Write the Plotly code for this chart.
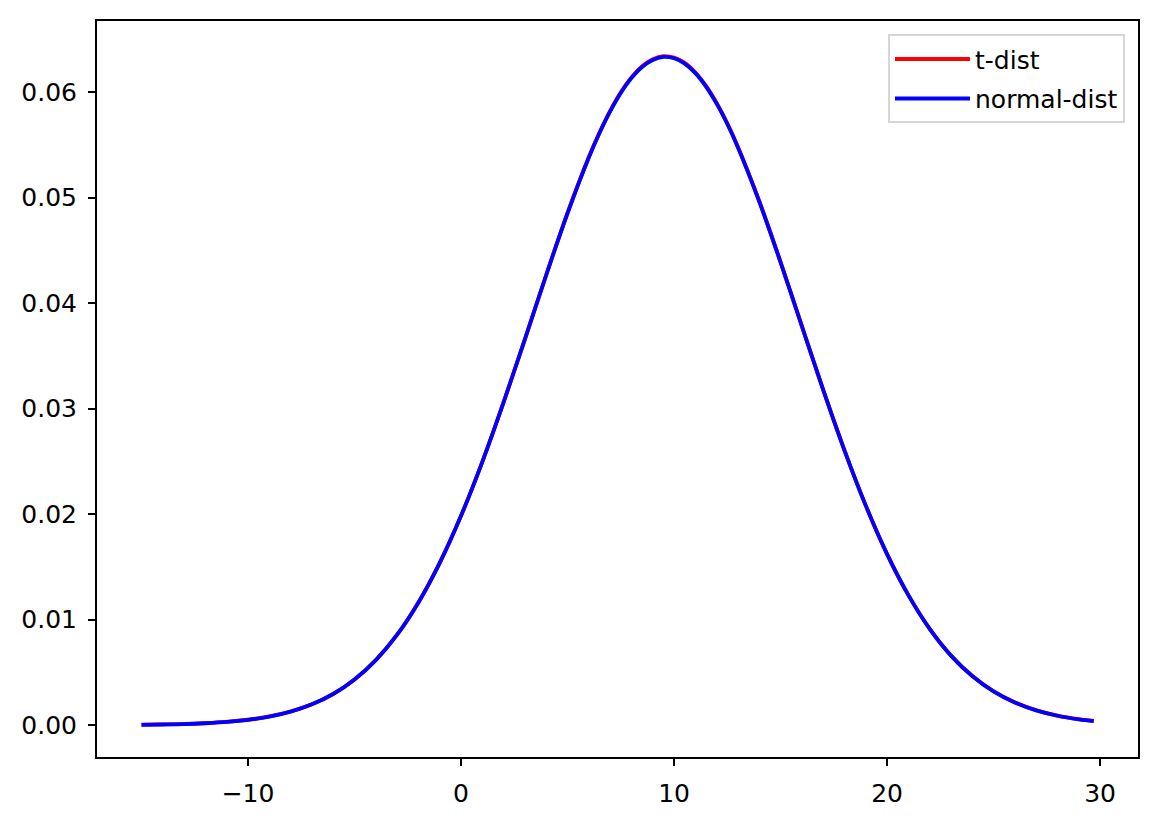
import plotly.graph_objects as go

x_vals = [-15, -14, -13, -12, -11, -10, -9, -8, -7, -6, -5, -4, -3, -2, -1,
          0, 1, 2, 3, 4, 5, 6, 6.5, 7, 7.5, 8, 8.5, 9, 9.5, 10, 10.5, 11, 11.5,
          12, 12.5, 13, 14, 15, 16, 17, 18, 19,
          20, 21, 22, 23, 24, 25, 26, 27, 28, 29, 29.7]

t_dist = [0.00004, 0.00007, 0.00011, 0.00019, 0.00031, 0.00051, 0.00082, 0.00129,
          0.00198, 0.00296, 0.00433, 0.00617, 0.00858, 0.01163, 0.01538,
          0.01984, 0.02495, 0.03060, 0.03659, 0.04268, 0.04855, 0.05384, 0.05616,
          0.05822, 0.05997, 0.06139, 0.06244, 0.06311, 0.06340, 0.06327, 0.06276,
          0.06185, 0.06058, 0.05896, 0.05703, 0.05480, 0.04967, 0.04390,
          0.03783, 0.03179, 0.02604, 0.02081, 0.01621, 0.01232, 0.00913, 0.00660,
          0.00465, 0.00320, 0.00215, 0.00141, 0.00090, 0.00056, 0.00040]

normal_dist = [0.00003, 0.00006, 0.00010, 0.00018, 0.00030, 0.00050, 0.00081, 0.00128,
               0.00197, 0.00295, 0.00432, 0.00616, 0.00857, 0.01163, 0.01538,
               0.01984, 0.02495, 0.03060, 0.03659, 0.04266, 0.04851, 0.05379, 0.05611,
               0.05816, 0.05991, 0.06132, 0.06237, 0.06304, 0.06333, 0.06320, 0.06269,
               0.06179, 0.06052, 0.05890, 0.05697, 0.05475, 0.04962, 0.04386,
               0.03780, 0.03177, 0.02604, 0.02080, 0.01621, 0.01232, 0.00913, 0.00659,
               0.00465, 0.00319, 0.00214, 0.00140, 0.00089, 0.00055, 0.00039]

x_ticks = [-10, 0, 10, 20, 30]
x_tick_text = ["\u221210", "0", "10", "20", "30"]
y_ticks = [0.00, 0.01, 0.02, 0.03, 0.04, 0.05, 0.06]
y_tick_text = ["0.00", "0.01", "0.02", "0.03", "0.04", "0.05", "0.06"]

fig = go.Figure()
fig.add_trace(go.Scatter(x=x_vals, y=t_dist, mode="lines", name="t-dist", legendgroup="t",
                         line=dict(color="red", width=3.8, shape="spline")))
fig.add_trace(go.Scatter(x=x_vals, y=normal_dist, mode="lines", name="normal-dist",
                         legendgroup="n",
                         line=dict(color="blue", width=3.8, shape="spline")))

axis_common = dict(showgrid=False, zeroline=False, showline=True, linecolor="black",
                   linewidth=2, mirror=True, ticks="outside", ticklen=7,
                   tickwidth=2, tickcolor="black",
                   tickfont=dict(family="DejaVu Sans", size=25, color="black"))

# The page body adds an 8px offset, so the figure is sized/margined to compensate.
fig.update_layout(
    width=1149, height=814,
    margin=dict(l=89, r=19, t=11, b=65),
    paper_bgcolor="white", plot_bgcolor="white",
    font=dict(family="DejaVu Sans", size=25, color="black"),
    xaxis=dict(range=[-17.09, 31.78], tickvals=x_ticks, ticktext=x_tick_text,
               ticklabelstandoff=6, **axis_common),
    yaxis=dict(range=[-0.00302, 0.06673], tickvals=y_ticks, ticktext=y_tick_text,
               ticklabelstandoff=6, **axis_common),
    legend=dict(x=0.9875, y=0.982, xanchor="right", yanchor="top",
                bgcolor="rgba(255,255,255,0.8)", bordercolor="#d6d6d6", borderwidth=2,
                font=dict(family="DejaVu Sans", size=25), itemwidth=75,
                tracegroupgap=4),
    showlegend=True,
)

fig.write_html("out.html")
